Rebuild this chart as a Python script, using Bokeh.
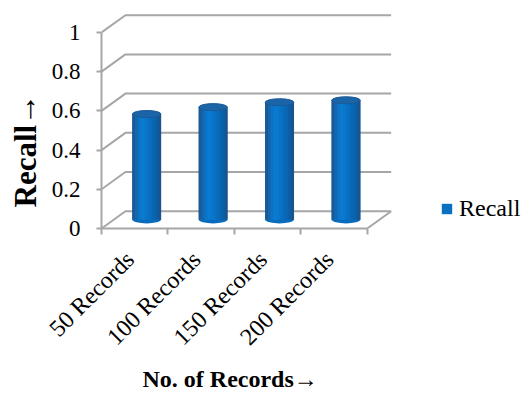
from math import pi
from bokeh.plotting import figure
from bokeh.models import (Range1d, FixedTicker, Legend, LegendItem, Title)
from bokeh.embed import file_html
from bokeh.resources import INLINE

# ---- data ----
categories = ["50 Records", "100 Records", "150 Records", "200 Records"]
recall = [0.54, 0.575, 0.60, 0.61]
y_ticks = [0, 0.2, 0.4, 0.6, 0.8, 1]
y_tick_labels = ["0", "0.2", "0.4", "0.6", "0.8", "1"]
series_name = "Recall"
x_title = "No. of Records\u2192"
y_title = "Recall\u2192"

# ---- styling / 3D geometry ----
DX = 0.36      # depth offset in category units
DY = 0.088     # depth offset in value units
BAR_W = 0.43
ELL_H = 0.036
LABEL_SHIFT = -0.07
GRID_COL = "#A6A6A6"
FONT = "Liberation Serif"

n = len(categories)
PX_PER_CAT = 66.75
x_end = (523 - 99) / PX_PER_CAT
y_end = 1.112

p = figure(width=523, height=394, output_backend="svg", toolbar_location=None,
           x_range=Range1d(0, x_end), y_range=Range1d(0, y_end),
           min_border_left=99, min_border_right=0, min_border_top=10,
           min_border_bottom=166)
p.outline_line_color = None
p.xgrid.visible = False
p.ygrid.visible = False
p.background_fill_color = "white"

# back wall / side wall / floor gridlines
xs, ys = [], []
for t in y_ticks:
    xs.append([0, DX, n + DX])
    ys.append([t, t + DY, t + DY])
xs.append([n, n + DX])
ys.append([0, DY])
p.multi_line(xs, ys, line_color=GRID_COL, line_width=2)

# cylinders
centers = [i + 0.5 + DX / 2 for i in range(n)]
bottoms = [DY / 2] * n
tops = [DY / 2 + v for v in recall]

p.ellipse(x=centers, y=bottoms, width=BAR_W, height=ELL_H,
          fill_color="#0A6CBC", line_color=None)

main_r = p.vbar(x=centers, width=BAR_W, bottom=bottoms, top=tops,
                fill_color="#0A70C0", line_color=None)

strip_cols = ["#1A5A96", "#1566AE", "#0C74C6", "#0A7BD2", "#0A78CD",
              "#0A72C4", "#096CBB", "#0966B2", "#0B5FA6", "#165590"]
ns = len(strip_cols)
sw = BAR_W / ns
for k, c in enumerate(strip_cols):
    off = -BAR_W / 2 + sw * (k + 0.5)
    p.vbar(x=[cx + off for cx in centers], width=sw * 1.15,
           bottom=bottoms, top=tops, fill_color=c, line_color=None)

p.ellipse(x=centers, y=tops, width=BAR_W, height=ELL_H,
          fill_color="#1C64A8", line_color="#1A5A96", line_width=1)

# y axis
ya = p.yaxis[0]
ya.ticker = FixedTicker(ticks=y_ticks)
ya.major_label_overrides = {t: l for t, l in zip(y_ticks, y_tick_labels)}
ya.bounds = (0, 1)
ya.axis_line_color = GRID_COL
ya.axis_line_width = 2
ya.major_tick_line_color = GRID_COL
ya.major_tick_line_width = 2
ya.major_tick_out = 5
ya.major_tick_in = 0
ya.minor_tick_line_color = None
ya.major_label_standoff = 16
ya.major_label_text_font = FONT
ya.major_label_text_font_size = "23px"
ya.major_label_text_color = "black"

# x axis
label_pos = [i + 0.5 + LABEL_SHIFT for i in range(n)]
xa = p.xaxis[0]
xa.ticker = FixedTicker(ticks=label_pos, minor_ticks=list(range(n + 1)))
xa.major_label_overrides = {pos: c for pos, c in zip(label_pos, categories)}
xa.bounds = (0, n)
xa.axis_line_color = GRID_COL
xa.axis_line_width = 2
xa.major_tick_line_color = None
xa.minor_tick_line_color = GRID_COL
xa.minor_tick_line_width = 2
xa.minor_tick_out = 6
xa.minor_tick_in = 0
xa.major_label_orientation = pi / 4
xa.major_label_standoff = 21
xa.major_label_text_font = FONT
xa.major_label_text_font_size = "24px"
xa.major_label_text_color = "black"

# axis titles
yt = Title(text=y_title, align="left", offset=21, standoff=11,
           text_font=FONT, text_font_size="31px", text_font_style="bold",
           text_color="black")
p.add_layout(yt, "left")
xt = Title(text=x_title, align="left", offset=41, standoff=2,
           text_font=FONT, text_font_size="24px", text_font_style="bold",
           text_color="black")
p.add_layout(xt, "below")

legend = Legend(items=[LegendItem(label=series_name, renderers=[main_r])],
                location=(339, 6), padding=0, margin=0, spacing=0,
                glyph_width=13, glyph_height=13, label_standoff=6,
                label_height=13, border_line_color=None,
                background_fill_alpha=0, label_text_color="black",
                label_text_font=FONT, label_text_font_size="24px")
p.add_layout(legend, "center")

open("out.html", "w").write(file_html(p, INLINE))
